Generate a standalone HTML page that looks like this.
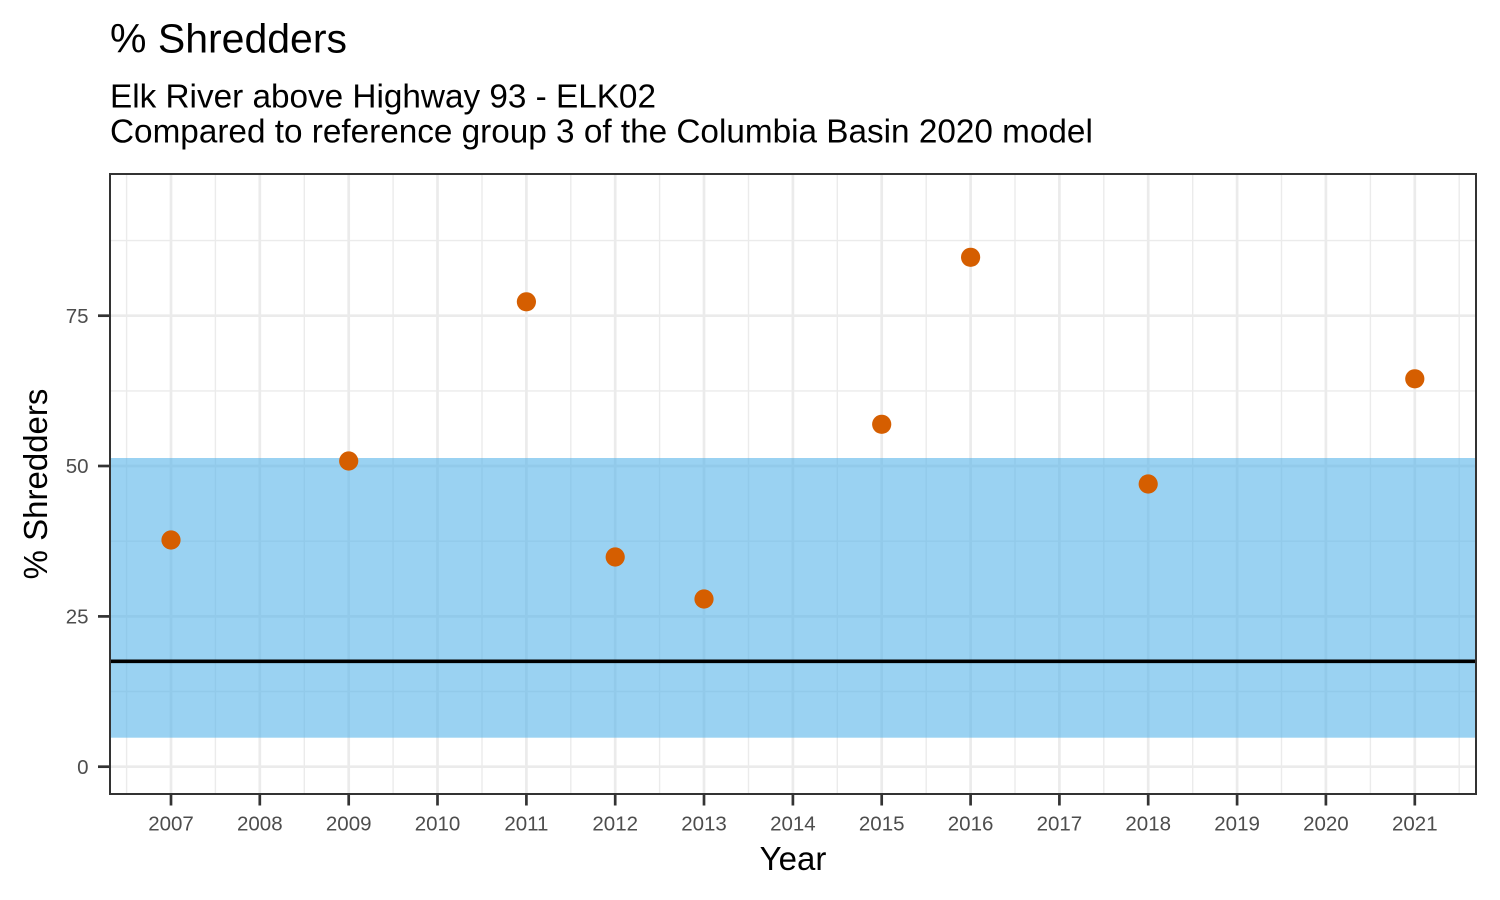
<!DOCTYPE html>
<html>
<head>
<meta charset="utf-8">
<style>
  html, body { margin: 0; padding: 0; background: #ffffff; }
  svg { display: block; }
  text { font-family: "Liberation Sans", Arial, sans-serif; }
</style>
</head>
<body>
<svg width="1500" height="900" viewBox="0 0 1500 900" xmlns="http://www.w3.org/2000/svg">
  <rect x="0" y="0" width="1500" height="900" fill="#ffffff"/>

  <!-- Titles -->
  <text x="110" y="52.3" font-size="41" fill="#000000">% Shredders</text>
  <text x="110" y="107.5" font-size="33.3" fill="#000000">Elk River above Highway 93 - ELK02</text>
  <text x="110" y="142.5" font-size="33.3" fill="#000000">Compared to reference group 3 of the Columbia Basin 2020 model</text>

  <defs>
    <clipPath id="panel">
      <rect x="110" y="174" width="1366" height="620"/>
    </clipPath>
  </defs>

  <g clip-path="url(#panel)">
    <!-- minor horizontal gridlines -->
    <g stroke="#EBEBEB" stroke-width="1.4">
      <line x1="110" x2="1476" y1="691.5" y2="691.5"/>
      <line x1="110" x2="1476" y1="541.2" y2="541.2"/>
      <line x1="110" x2="1476" y1="390.9" y2="390.9"/>
      <line x1="110" x2="1476" y1="240.6" y2="240.6"/>
    </g>
    <!-- minor vertical gridlines (half years) -->
    <g stroke="#EBEBEB" stroke-width="1.4">
      <line y1="174" y2="794" x1="126.6" x2="126.6"/>
      <line y1="174" y2="794" x1="215.4" x2="215.4"/>
      <line y1="174" y2="794" x1="304.3" x2="304.3"/>
      <line y1="174" y2="794" x1="393.1" x2="393.1"/>
      <line y1="174" y2="794" x1="482.0" x2="482.0"/>
      <line y1="174" y2="794" x1="570.8" x2="570.8"/>
      <line y1="174" y2="794" x1="659.6" x2="659.6"/>
      <line y1="174" y2="794" x1="748.5" x2="748.5"/>
      <line y1="174" y2="794" x1="837.3" x2="837.3"/>
      <line y1="174" y2="794" x1="926.2" x2="926.2"/>
      <line y1="174" y2="794" x1="1015.0" x2="1015.0"/>
      <line y1="174" y2="794" x1="1103.8" x2="1103.8"/>
      <line y1="174" y2="794" x1="1192.7" x2="1192.7"/>
      <line y1="174" y2="794" x1="1281.5" x2="1281.5"/>
      <line y1="174" y2="794" x1="1370.4" x2="1370.4"/>
      <line y1="174" y2="794" x1="1459.2" x2="1459.2"/>
    </g>
    <!-- major horizontal gridlines -->
    <g stroke="#EBEBEB" stroke-width="2.7">
      <line x1="110" x2="1476" y1="766.7" y2="766.7"/>
      <line x1="110" x2="1476" y1="616.4" y2="616.4"/>
      <line x1="110" x2="1476" y1="466.0" y2="466.0"/>
      <line x1="110" x2="1476" y1="315.7" y2="315.7"/>
    </g>
    <!-- major vertical gridlines (years) -->
    <g stroke="#EBEBEB" stroke-width="2.7">
      <line y1="174" y2="794" x1="171.0" x2="171.0"/>
      <line y1="174" y2="794" x1="259.8" x2="259.8"/>
      <line y1="174" y2="794" x1="348.7" x2="348.7"/>
      <line y1="174" y2="794" x1="437.5" x2="437.5"/>
      <line y1="174" y2="794" x1="526.4" x2="526.4"/>
      <line y1="174" y2="794" x1="615.2" x2="615.2"/>
      <line y1="174" y2="794" x1="704.0" x2="704.0"/>
      <line y1="174" y2="794" x1="792.9" x2="792.9"/>
      <line y1="174" y2="794" x1="881.7" x2="881.7"/>
      <line y1="174" y2="794" x1="970.6" x2="970.6"/>
      <line y1="174" y2="794" x1="1059.4" x2="1059.4"/>
      <line y1="174" y2="794" x1="1148.2" x2="1148.2"/>
      <line y1="174" y2="794" x1="1237.1" x2="1237.1"/>
      <line y1="174" y2="794" x1="1325.9" x2="1325.9"/>
      <line y1="174" y2="794" x1="1414.8" x2="1414.8"/>
    </g>

    <!-- reference band -->
    <rect x="110" y="458" width="1366" height="279.7" fill="#56B4E9" fill-opacity="0.6"/>

    <!-- reference median line -->
    <line x1="110" x2="1476" y1="661.3" y2="661.3" stroke="#000000" stroke-width="3.6"/>

    <!-- points -->
    <g fill="#D55E00">
      <circle cx="171.0" cy="540.0" r="9.6"/>
      <circle cx="348.7" cy="461.0" r="9.6"/>
      <circle cx="526.4" cy="301.8" r="9.6"/>
      <circle cx="615.2" cy="557.0" r="9.6"/>
      <circle cx="704.0" cy="599.0" r="9.6"/>
      <circle cx="881.7" cy="424.3" r="9.6"/>
      <circle cx="970.6" cy="257.3" r="9.6"/>
      <circle cx="1148.2" cy="484.0" r="9.6"/>
      <circle cx="1414.8" cy="378.8" r="9.6"/>
    </g>
  </g>

  <!-- panel border -->
  <rect x="110" y="174" width="1366" height="620" fill="none" stroke="#333333" stroke-width="2"/>

  <!-- y ticks -->
  <g stroke="#333333" stroke-width="2.7">
    <line x1="98" x2="110" y1="766.7" y2="766.7"/>
    <line x1="98" x2="110" y1="616.4" y2="616.4"/>
    <line x1="98" x2="110" y1="466.0" y2="466.0"/>
    <line x1="98" x2="110" y1="315.7" y2="315.7"/>
  </g>
  <g font-size="20.5" fill="#4D4D4D" text-anchor="end">
    <text x="88.5" y="773.8">0</text>
    <text x="88.5" y="623.5">25</text>
    <text x="88.5" y="473.1">50</text>
    <text x="88.5" y="322.8">75</text>
  </g>

  <!-- x ticks -->
  <g stroke="#333333" stroke-width="2.7">
    <line y1="794" y2="805.5" x1="171.0" x2="171.0"/>
    <line y1="794" y2="805.5" x1="259.8" x2="259.8"/>
    <line y1="794" y2="805.5" x1="348.7" x2="348.7"/>
    <line y1="794" y2="805.5" x1="437.5" x2="437.5"/>
    <line y1="794" y2="805.5" x1="526.4" x2="526.4"/>
    <line y1="794" y2="805.5" x1="615.2" x2="615.2"/>
    <line y1="794" y2="805.5" x1="704.0" x2="704.0"/>
    <line y1="794" y2="805.5" x1="792.9" x2="792.9"/>
    <line y1="794" y2="805.5" x1="881.7" x2="881.7"/>
    <line y1="794" y2="805.5" x1="970.6" x2="970.6"/>
    <line y1="794" y2="805.5" x1="1059.4" x2="1059.4"/>
    <line y1="794" y2="805.5" x1="1148.2" x2="1148.2"/>
    <line y1="794" y2="805.5" x1="1237.1" x2="1237.1"/>
    <line y1="794" y2="805.5" x1="1325.9" x2="1325.9"/>
    <line y1="794" y2="805.5" x1="1414.8" x2="1414.8"/>
  </g>
  <g font-size="20.5" fill="#4D4D4D" text-anchor="middle">
    <text x="171.0" y="830.7">2007</text>
    <text x="259.8" y="830.7">2008</text>
    <text x="348.7" y="830.7">2009</text>
    <text x="437.5" y="830.7">2010</text>
    <text x="526.4" y="830.7">2011</text>
    <text x="615.2" y="830.7">2012</text>
    <text x="704.0" y="830.7">2013</text>
    <text x="792.9" y="830.7">2014</text>
    <text x="881.7" y="830.7">2015</text>
    <text x="970.6" y="830.7">2016</text>
    <text x="1059.4" y="830.7">2017</text>
    <text x="1148.2" y="830.7">2018</text>
    <text x="1237.1" y="830.7">2019</text>
    <text x="1325.9" y="830.7">2020</text>
    <text x="1414.8" y="830.7">2021</text>
  </g>

  <!-- axis titles -->
  <text x="793" y="870" font-size="33" fill="#000000" text-anchor="middle">Year</text>
  <text transform="translate(47,484) rotate(-90)" font-size="33" fill="#000000" text-anchor="middle">% Shredders</text>
</svg>
</body>
</html>
